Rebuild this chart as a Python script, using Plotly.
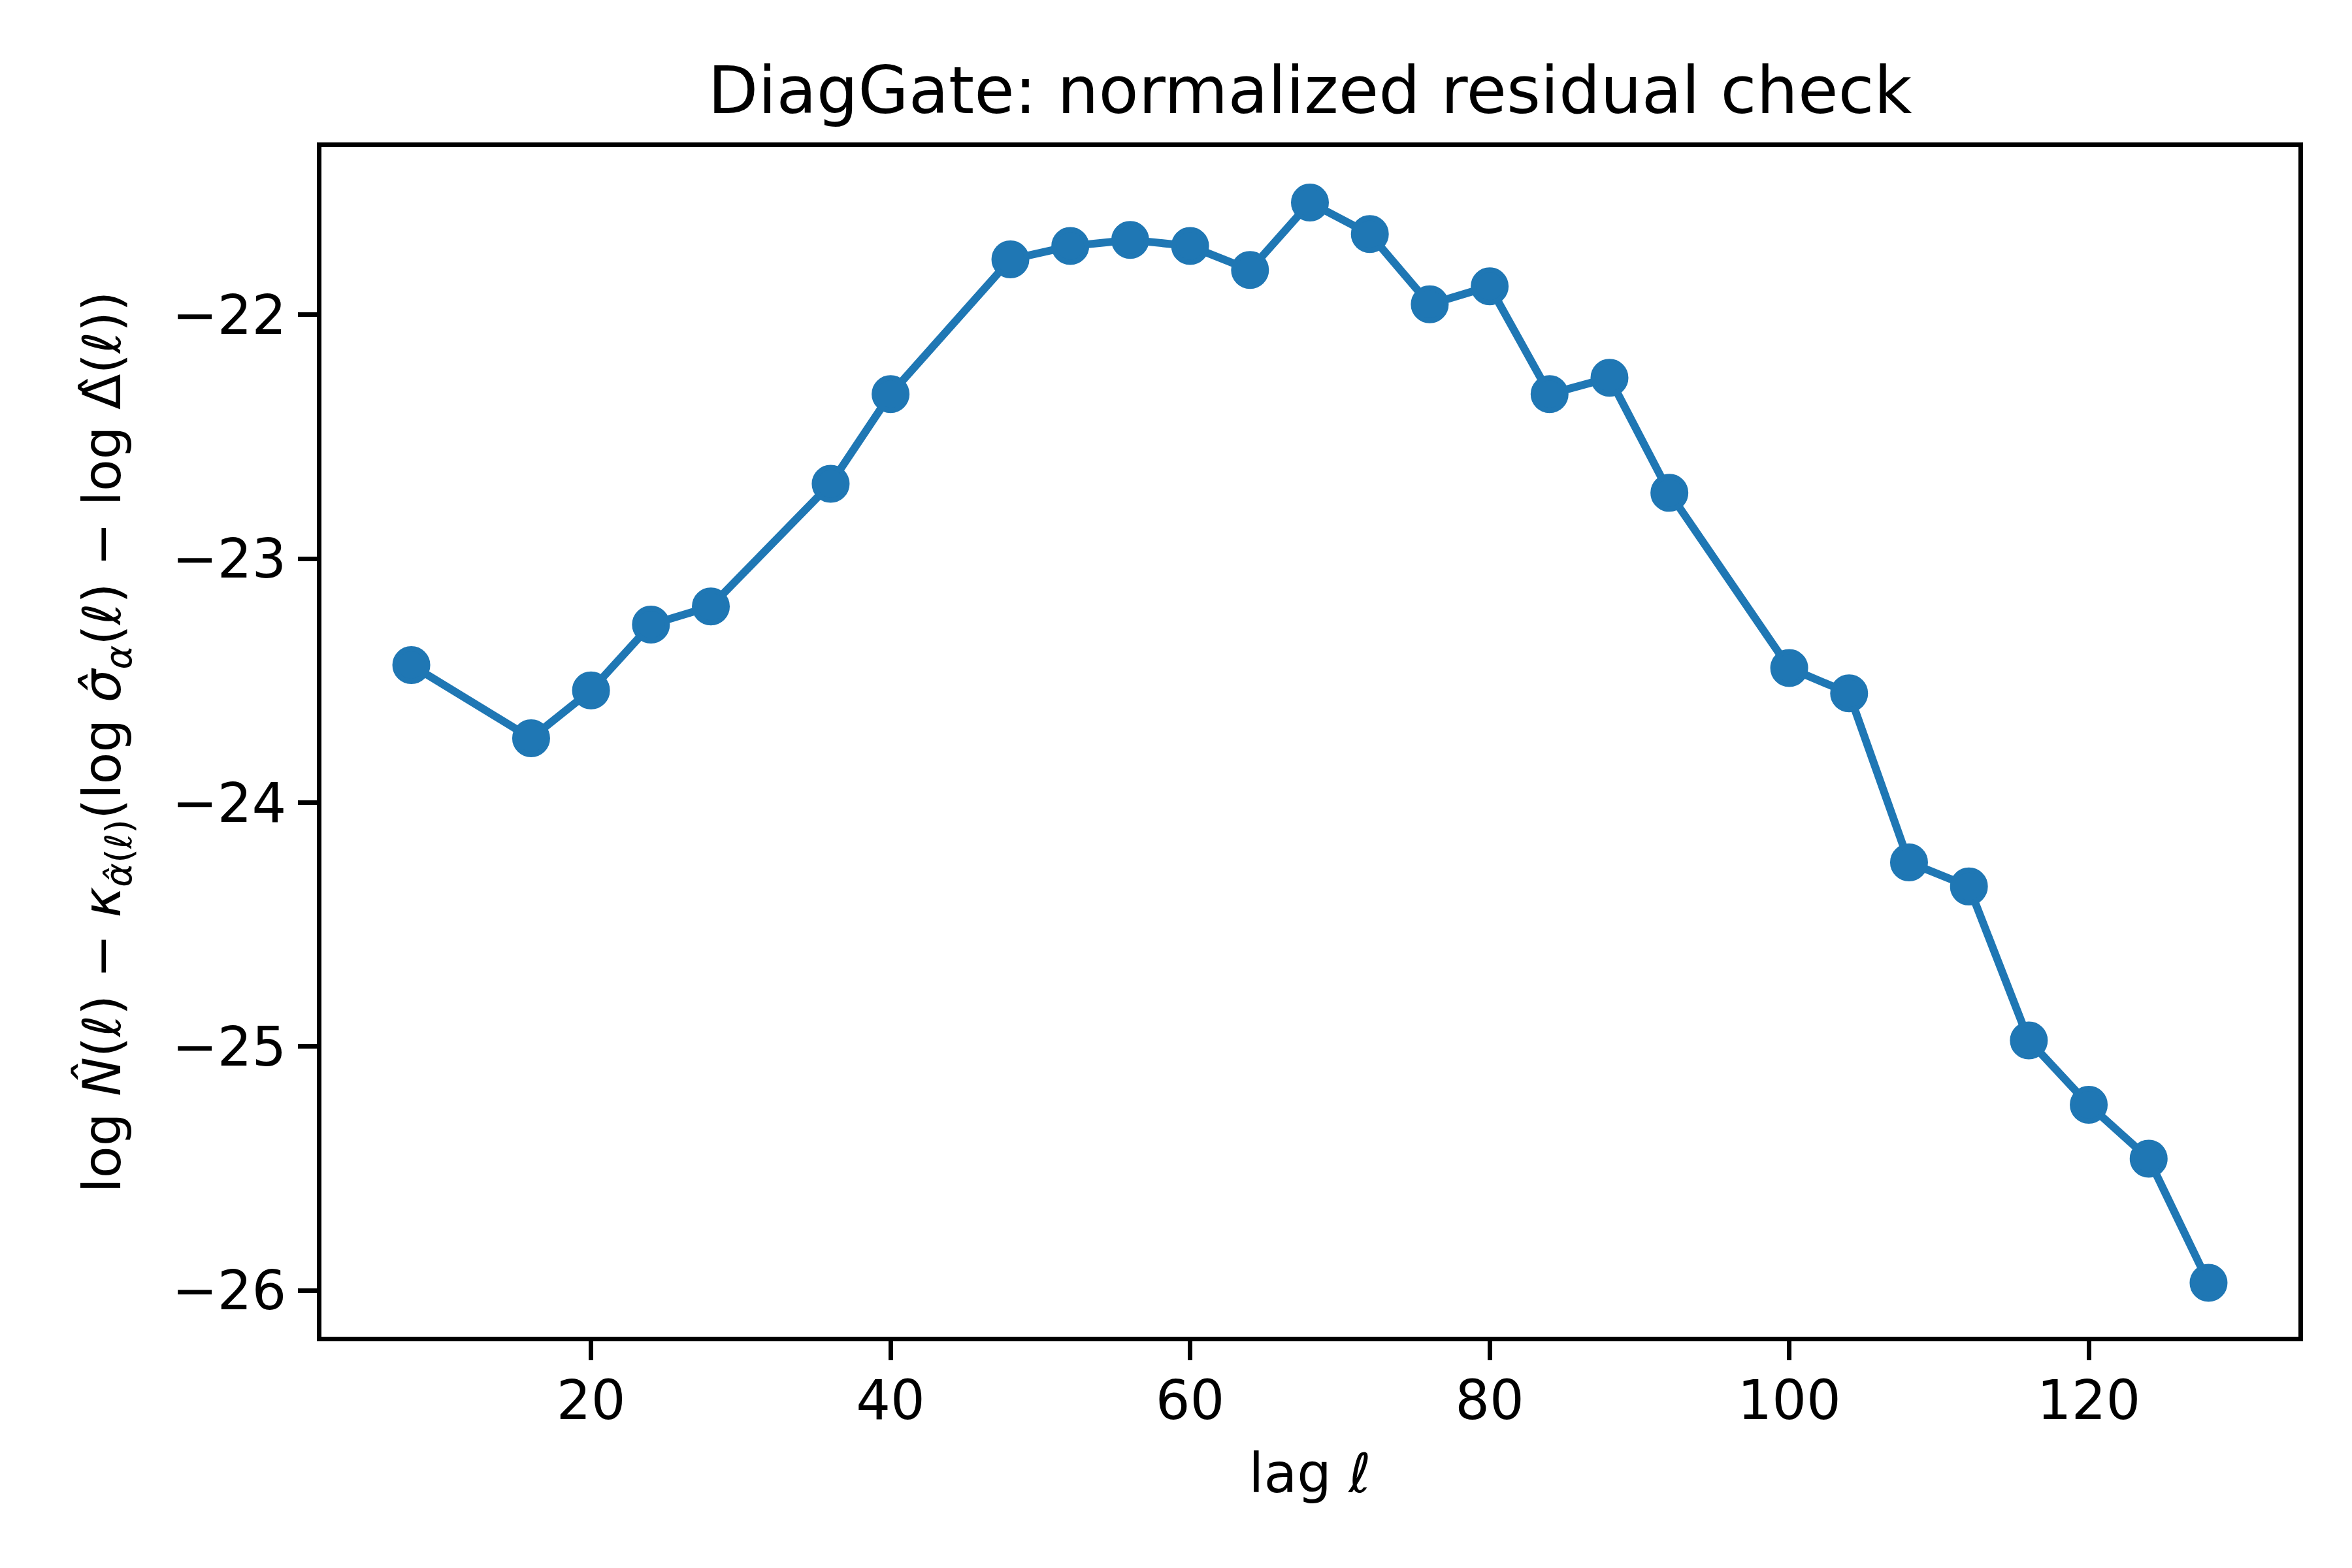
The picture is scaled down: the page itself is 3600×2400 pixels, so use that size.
import plotly.graph_objects as go

lags = [8, 16, 20, 24, 28, 36, 40, 48, 52, 56, 60, 64, 68, 72, 76, 80, 84, 88, 92, 100, 104, 108, 112, 116, 120, 124, 128]
values = [-23.436, -23.736, -23.54, -23.27, -23.196, -22.693, -22.325, -21.773, -21.718, -21.693,
          -21.718, -21.816, -21.54, -21.669, -21.957, -21.883, -22.325, -22.258, -22.730, -23.448,
          -23.552, -24.245, -24.344, -24.975, -25.239, -25.46, -25.969]
xticks = [20, 40, 60, 80, 100, 120]
yticks = [-22, -23, -24, -25, -26]

title_text = "DiagGate: normalized residual check"
xlabel = "lag <i>ℓ</i>"
ylabel = ("log <i>N̂</i>(<i>ℓ</i>) − <i>κ</i><sub><i>α̂</i>(<i>ℓ</i>)</sub>"
          "(log <i>σ̂</i><sub><i>α</i></sub>(<i>ℓ</i>) − log Δ̂(<i>ℓ</i>))")

color = "#1f77b4"
font = "DejaVu Sans"

fig = go.Figure()
fig.add_trace(go.Scatter(
    x=lags, y=values, mode="lines+markers",
    line=dict(color=color, width=12),
    marker=dict(color=color, size=50, line=dict(width=8, color=color)),
    showlegend=False,
))

axis_common = dict(
    showgrid=False, zeroline=False, showline=True, linecolor="black", linewidth=7,
    mirror=True, ticks="outside", ticklen=29, tickwidth=7, tickcolor="black",
    tickfont=dict(family=font, size=83, color="black"),
)

fig.update_layout(
    width=3600, height=2400,
    paper_bgcolor="white", plot_bgcolor="white",
    margin=dict(l=484, r=90, t=217, b=362),
    font=dict(family=font, color="black"),
    title=dict(text=title_text, x=0.5, xref="paper", xanchor="center",
               y=1, yref="paper", yanchor="bottom", pad=dict(b=52),
               font=dict(family=font, size=100, color="black")),
    xaxis=dict(range=[2, 134], tickvals=xticks, ticktext=[str(v) for v in xticks],
               title=dict(text=xlabel, font=dict(family=font, size=83), standoff=38),
               ticklabelstandoff=-10, **axis_common),
    yaxis=dict(range=[-26.19, -21.312], tickvals=yticks,
               ticktext=["−" + str(abs(v)) for v in yticks],
               title=dict(text=ylabel, font=dict(family=font, size=80), standoff=55),
               ticklabelstandoff=1, **axis_common),
)

fig.write_html("out.html")
